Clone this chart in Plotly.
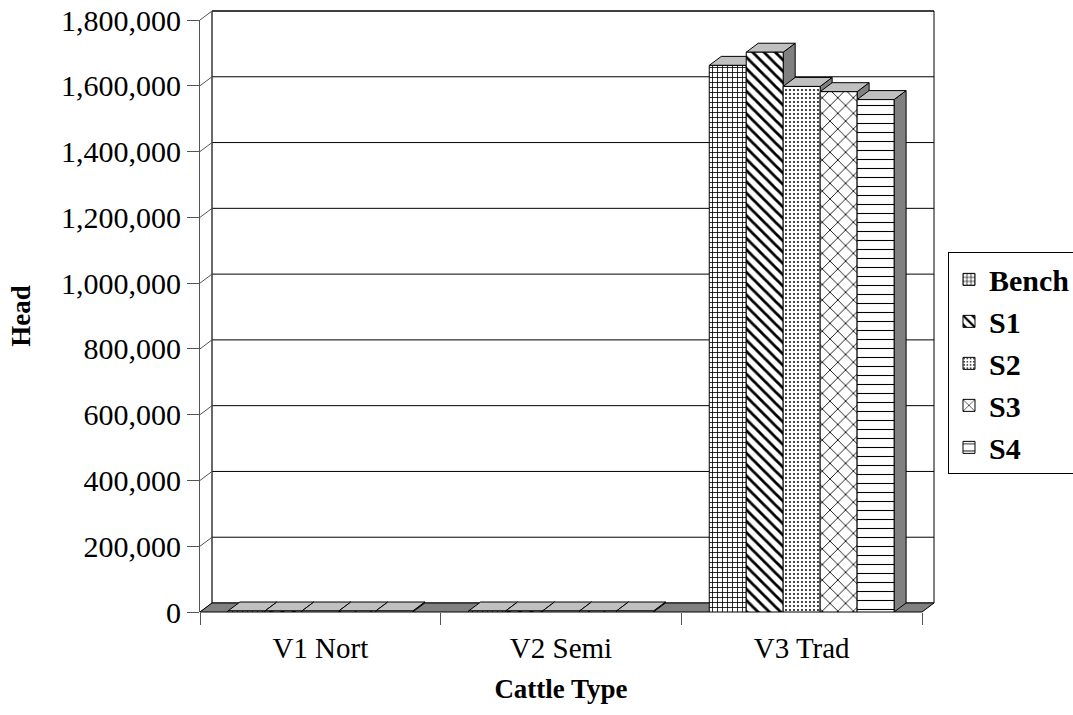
import plotly.graph_objects as go

# ---------------- data ----------------
categories = ["V1 Nort", "V2 Semi", "V3 Trad"]
series_names = ["Bench", "S1", "S2", "S3", "S4"]
bench = [3000, 3000, 1662000]
s1 = [3000, 3000, 1702000]
s2 = [3000, 3000, 1598000]
s3 = [3000, 3000, 1582000]
s4 = [3000, 3000, 1558000]
y_ticks = [0, 200000, 400000, 600000, 800000, 1000000, 1200000, 1400000, 1600000, 1800000]

series_values = [bench, s1, s2, s3, s4]

# ---------------- styling ----------------
patterns = [
    dict(shape="+", size=5, solidity=0.3),
    dict(shape="\\", size=8, solidity=0.35),
    dict(shape=".", size=4, solidity=0.18),
    dict(shape="x", size=11, solidity=0.15),
    dict(shape="-", size=9, solidity=0.12),
]
FONT = "Liberation Serif, serif"
W, H = 1073, 715
ML, MR, MT, MB = 200, 151, 20, 103
PW, PH = W - ML - MR, H - MT - MB
YMAX = 1800000
BARGAP = 0.232
DEPTH_X_PX, DEPTH_Y_PX = 12, 9
dxp, dyp = DEPTH_X_PX / PW, DEPTH_Y_PX / PH          # paper units
dxd = DEPTH_X_PX / (PW / len(categories))              # category units
dyd = DEPTH_Y_PX * YMAX / PH                           # value units

fig = go.Figure()
for name, vals, pat in zip(series_names, series_values, patterns):
    fig.add_trace(go.Bar(
        name=name, x=categories, y=vals,
        marker=dict(color="white", line=dict(color="black", width=1),
                    pattern=dict(fgcolor="black", bgcolor="white", fillmode="replace", **pat)),
    ))

shapes = []
# back wall
shapes.append(dict(type="rect", xref="paper", yref="paper", x0=dxp, x1=1 + dxp, y0=dyp, y1=1 + dyp,
                   line=dict(color="black", width=1), fillcolor="white", layer="below"))
# gridlines on back wall + left wall diagonals
for v in y_ticks:
    yp = v / YMAX
    if v > 0:
        shapes.append(dict(type="line", xref="paper", yref="paper", x0=dxp, x1=1 + dxp, y0=yp + dyp, y1=yp + dyp,
                           line=dict(color="black", width=1), layer="below"))
    shapes.append(dict(type="line", xref="paper", yref="paper", x0=0, x1=dxp, y0=yp, y1=yp + dyp,
                       line=dict(color="#555555", width=1), layer="below"))
# left wall back edge
shapes.append(dict(type="line", xref="paper", yref="paper", x0=dxp, x1=dxp, y0=dyp, y1=1 + dyp,
                   line=dict(color="#555555", width=1), layer="below"))
# floor
shapes.append(dict(type="path", xref="paper", yref="paper",
                   path=f"M 0 0 L 1 0 L {1 + dxp} {dyp} L {dxp} {dyp} Z",
                   fillcolor="#808080", line=dict(color="black", width=1), layer="below"))

# 3D faces of bars
n = len(series_names)
bw = (1 - BARGAP) / n
for i, vals in enumerate(series_values):
    for j, v in enumerate(vals):
        xl = j - (1 - BARGAP) / 2 + bw * i
        xr = xl + bw
        side = f"M {xr} 0 L {xr} {v} L {xr + dxd} {v + dyd} L {xr + dxd} {dyd} Z"
        top = f"M {xl} {v} L {xr} {v} L {xr + dxd} {v + dyd} L {xl + dxd} {v + dyd} Z"
        shapes.append(dict(type="path", xref="x", yref="y", path=side, fillcolor="#808080",
                           line=dict(color="black", width=1), layer="below"))
        shapes.append(dict(type="path", xref="x", yref="y", path=top, fillcolor="#c0c0c0",
                           line=dict(color="black", width=1), layer="below"))

fig.update_layout(
    width=W, height=H,
    margin=dict(l=ML, r=MR, t=MT, b=MB, autoexpand=False),
    paper_bgcolor="white", plot_bgcolor="white",
    barmode="group", bargap=BARGAP, bargroupgap=0,
    font=dict(family=FONT, color="black", size=30),
    shapes=shapes,
    showlegend=True,
    legend=dict(x=1.036, xanchor="left", y=0.42, yanchor="middle",
                bordercolor="black", borderwidth=1, bgcolor="white",
                font=dict(family=FONT, size=30, weight="bold"),
                itemwidth=30, tracegroupgap=0),
    xaxis=dict(type="category", tickson="boundaries", ticks="outside", ticklen=12,
               tickcolor="#555555", showline=False, showgrid=False, zeroline=False,
               tickfont=dict(size=29, family=FONT), ticklabelstandoff=16,
               range=[-0.5, 2.5],
               title=dict(text="Cattle Type", font=dict(size=27, family=FONT, weight="bold"), standoff=16)),
    yaxis=dict(range=[0, YMAX], tickvals=y_ticks, tickformat=",", ticks="outside", ticklen=12,
               tickcolor="#555555", showline=True, linecolor="#555555", showgrid=False, zeroline=False,
               tickfont=dict(size=30, family=FONT),
               title=dict(text="Head", font=dict(size=27, family=FONT, weight="bold"), standoff=22)),
)

fig.write_html("out.html")
